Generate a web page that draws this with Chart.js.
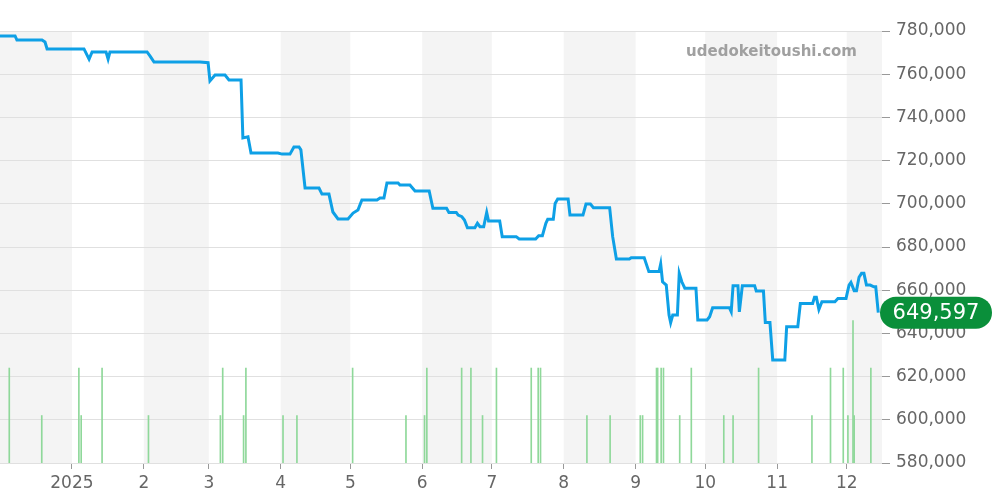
<!DOCTYPE html>
<html><head><meta charset="utf-8">
<script src="https://cdn.jsdelivr.net/npm/chart.js@4/dist/chart.umd.min.js"></script>
<style>html,body{margin:0;padding:0;background:#fff}#w{width:1000px;height:500px}</style>
</head><body><div id="w"><canvas id="c" width="1000" height="500"></canvas></div>
<script>
// x = days since 2024-12-01
const priceDays = [0,6.5,7.3,18.1,19.4,20.3,36.2,38.4,39.7,45.7,46.6,47.4,63.4,64.7,66.4,86.2,89.7,90.5,92.7,97,98.7,103.9,104.7,106.9,108.2,119.8,121.6,125,126.7,128.9,129.7,131.5,137.5,138.8,141.8,143.5,145.7,150,152.2,154.3,156,162.5,163.8,165.5,166.8,171.6,172.4,176.7,178.9,185,186.6,192.5,193.5,196.7,197.5,199.1,200.2,201.5,204.7,205.8,206.9,208.5,209.8,210.6,215.4,216.5,222.5,223.8,230.9,232.2,233.8,235.3,236.1,238.5,239.3,240.4,244.9,245.7,251.3,252.6,254.5,255.8,262.8,264.1,265.7,271.3,272.1,277.7,279.7,284.1,284.8,285.6,287.2,288.4,289.1,290,292,292.8,293.9,295.2,300,300.8,304.8,305.9,307.2,314.4,315.2,316,318.1,318.7,320,325.3,326,329.1,329.9,331.9,333.1,338.3,339.1,343.9,345,350.3,351.1,351.9,353,354.3,359.9,361.2,364.7,366,366.8,368.2,369.2,370.3,371.4,372.4,373.5,375.1,376.7,377.5,378.6];
const priceValues = [777700,777700,775800,775800,774900,771700,771700,767000,770300,770300,767000,770300,770300,768400,765600,765600,765300,756900,759600,759600,757300,757300,730500,731000,723500,723500,723000,723000,726300,726300,725000,707300,707300,704500,704500,696200,693000,693000,695700,697100,701800,701800,702700,702700,709600,709600,708700,708700,705900,705900,697900,697900,696000,696000,694800,694000,692500,688900,688900,691000,689400,689400,696000,692000,692000,684800,684800,683700,683700,685200,685200,691000,692800,692800,700200,702200,702200,694800,694800,699900,699900,698200,698200,684800,674400,674400,675000,675000,668600,668600,672100,663900,662400,648500,645000,648500,648500,667800,663900,660900,660900,646200,646200,647700,651900,651900,650000,662100,662100,650000,662100,662100,659600,659600,645000,645000,627700,627700,643100,643100,653900,653900,656700,656700,651100,654700,654700,656200,656200,662400,663600,659800,659800,666000,667800,667800,662400,662400,661600,661600,649597];
const volDays = [4,18,34,35,44,64,95,96,105,106,122,128,152,175,183,184,199,203,208,214,229,232,233,253,263,276,277,283,283.5,285,286,293,298,312,316,327,350,358,363.5,365.5,367.7,368.2,375.4];
const volValues = [2,1,2,1,2,1,1,2,1,2,1,1,2,1,1,2,2,2,1,2,2,2,2,1,1,1,1,2,2,2,2,1,2,1,1,2,1,2,2,1,3,1,2];
const monthStarts = [31,62,90,121,151,182,212,243,274,304,335,365];
const monthLabels = ['2025','2','3','4','5','6','7','8','9','10','11','12'];
const shadedMonths = [[0,31],[62,90],[121,151],[182,212],[243,274],[304,335],[365,381]];
const yTicks = [580000,600000,620000,640000,660000,680000,700000,720000,740000,760000,780000];
const lastLabel = '649,597';

const bands = {id:'bands',beforeDraw(ch){const {ctx,chartArea:a,scales:{x}}=ch;ctx.save();ctx.fillStyle='#f4f4f4';
 shadedMonths.forEach(([s,e])=>{const l=Math.max(a.left,x.getPixelForValue(s)),r=Math.min(a.right,x.getPixelForValue(e));ctx.fillRect(l,a.top,r-l,a.bottom-a.top);});ctx.restore();}};
const deco = {id:'deco',afterDraw(ch){const {ctx,chartArea:a,scales:{y}}=ch;ctx.save();
 ctx.font='bold 15px "DejaVu Sans"';ctx.fillStyle='#a0a0a0';ctx.textAlign='right';ctx.textBaseline='middle';ctx.fillText('udedokeitoushi.com',857,52);
 const py=y.getPixelForValue(priceValues[priceValues.length-1]);const x0=880,w=112,h=32;
 ctx.fillStyle='#0a8f3a';ctx.beginPath();ctx.roundRect(x0,py-h/2,w,h,16);ctx.fill();
 ctx.fillStyle='#fff';ctx.font='21px "DejaVu Sans"';ctx.textAlign='center';ctx.fillText(lastLabel,x0+w/2,py+1);ctx.restore();}};

new Chart(document.getElementById('c'),{
 data:{datasets:[
  {type:'line',data:priceDays.map((d,i)=>({x:d,y:priceValues[i]})),borderColor:'#0ea0e6',borderWidth:3,pointRadius:0,tension:0,yAxisID:'y',order:1},
  {type:'bar',data:volDays.map((d,i)=>({x:d,y:volValues[i]})),backgroundColor:'#8fd89a',barThickness:1,yAxisID:'y2',order:2}
 ]},
 options:{responsive:false,animation:false,layout:{padding:{top:31,left:0,right:0,bottom:0}},
  plugins:{legend:{display:false},tooltip:{enabled:false}},
  scales:{
   x:{type:'linear',offset:false,min:0,max:380.2,grid:{display:true,drawOnChartArea:false,tickLength:6,color:'#999',offset:false},border:{display:false},
    afterBuildTicks(s){s.ticks=monthStarts.map(v=>({value:v}));},
    ticks:{autoSkip:false,maxRotation:0,color:'#666',font:{size:17,family:'DejaVu Sans'},padding:4,callback:(v)=>monthLabels[monthStarts.indexOf(v)]},
    afterFit(s){s.height=37;}},
   y:{position:'right',min:580000,max:780000,border:{display:false},grid:{color:'#e0e0e0',tickLength:8,tickColor:'#999'},
    afterBuildTicks(s){s.ticks=yTicks.map(v=>({value:v}));},
    ticks:{color:'#666',font:{size:17,family:'DejaVu Sans'},padding:6,callback:v=>v.toLocaleString('en-US')},
    afterFit(s){s.width=118;}},
   y2:{display:false,min:0,max:9.1}
  }},
 plugins:[bands,deco]});
</script></body></html>
